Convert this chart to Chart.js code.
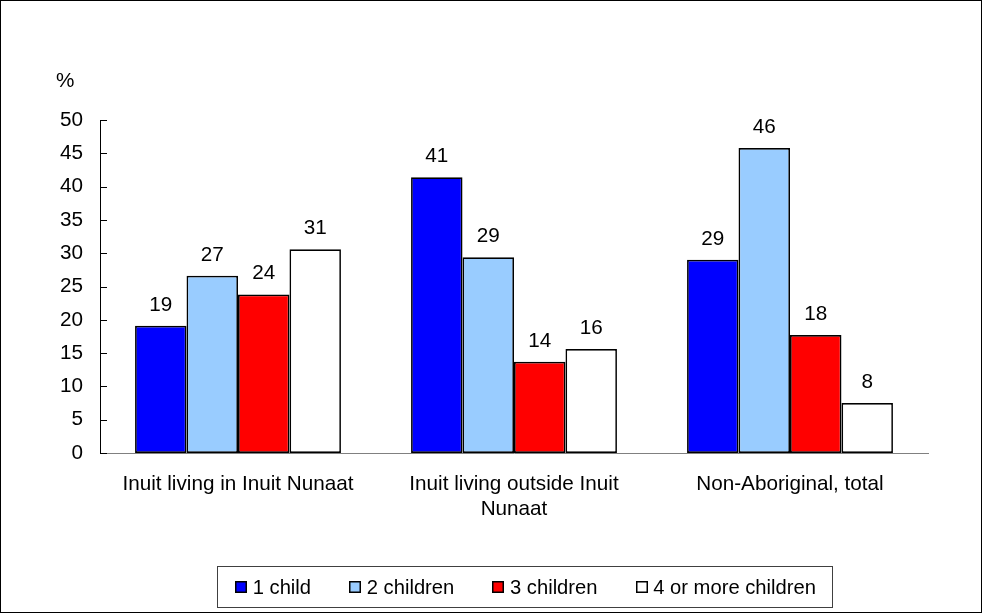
<!DOCTYPE html>
<html>
<head>
<meta charset="utf-8">
<script src="https://cdn.jsdelivr.net/npm/chart.js@4"></script>
<style>
  html, body { margin: 0; padding: 0; background: #fff; }
  #wrap { width: 982px; height: 613px; }
</style>
</head>
<body>
<div id="wrap"><canvas id="myChart" width="982" height="613"></canvas></div>
<script>
const categories = [
  "Inuit living in Inuit Nunaat",
  ["Inuit living outside Inuit", "Nunaat"],
  "Non-Aboriginal, total"
];
const seriesNames = ["1 child", "2 children", "3 children", "4 or more children"];
const oneChild = [19.1, 41.4, 29.0];
const twoChildren = [26.6, 29.4, 45.8];
const threeChildren = [23.8, 13.7, 17.7];
const fourPlus = [30.6, 15.6, 7.5];
const yTicks = [0, 5, 10, 15, 20, 25, 30, 35, 40, 45, 50];

const colors = ["#0000FF", "#99CCFF", "#FF0000", "#FFFFFF"];
const FONT = "'Liberation Sans', Arial, sans-serif";
const FS = 20.7;

Chart.defaults.font.family = FONT;
Chart.defaults.font.size = FS;
Chart.defaults.color = "#000";

// frame, "%" label, inward ticks, value labels, boxed legend
const extras = {
  id: "extras",
  beforeDraw(chart) {
    const c = chart.ctx;
    c.save();
    c.fillStyle = "#fff";
    c.fillRect(0, 0, chart.width, chart.height);
    c.restore();
  },
  afterDraw(chart) {
    const c = chart.ctx;
    const y = chart.scales.y;
    c.save();
    c.strokeStyle = "#000";
    c.lineWidth = 1;
    c.strokeRect(0.5, 0.5, chart.width - 1, chart.height - 1);

    // inward y ticks
    c.beginPath();
    yTicks.forEach(v => {
      const py = Math.round(y.getPixelForValue(v)) + 0.5;
      c.moveTo(y.right, py);
      c.lineTo(y.right + 7, py);
    });
    c.stroke();

    c.font = FS + "px " + FONT;
    c.fillStyle = "#000";
    c.textBaseline = "alphabetic";
    c.textAlign = "left";
    c.fillText("%", 56, 87);

    // values above bars
    c.textAlign = "center";
    chart.data.datasets.forEach((ds, di) => {
      chart.getDatasetMeta(di).data.forEach((bar, i) => {
        c.fillText(Math.round(ds.data[i]), bar.x, bar.y - 15);
      });
    });

    // legend
    c.font = "20.2px " + FONT;
    const ds = chart.data.datasets;
    const box = 12, gapText = 5.7, gapItem = 38;
    let total = 0;
    ds.forEach((d, i) => {
      total += box + gapText + c.measureText(d.label).width + (i < ds.length - 1 ? gapItem : 0);
    });
    const boxL = 217, padL = 18, padR = 16;
    const top = 566, bottom = 607, mid = 587;
    c.strokeStyle = "#404040";
    c.strokeRect(boxL + 0.5, top + 0.5, Math.round(padL + total + padR), bottom - top);
    let x = boxL + padL;
    c.textAlign = "left";
    c.textBaseline = "middle";
    ds.forEach(d => {
      const bx = Math.round(x);
      c.fillStyle = d.backgroundColor;
      c.fillRect(bx, mid - box / 2, box, box);
      c.strokeStyle = "#000";
      c.lineWidth = 1.5;
      c.strokeRect(bx + 0.75, mid - box / 2 + 0.75, box - 1.5, box - 1.5);
      c.fillStyle = "#000";
      c.fillText(d.label, x + box + gapText, mid + 1);
      x += box + gapText + c.measureText(d.label).width + gapItem;
    });
    c.restore();
  }
};

const seriesData = [oneChild, twoChildren, threeChildren, fourPlus];

new Chart(document.getElementById("myChart").getContext("2d"), {
  type: "bar",
  data: {
    labels: categories,
    datasets: seriesNames.map((name, i) => ({
      label: name,
      data: seriesData[i],
      backgroundColor: colors[i],
      borderColor: "#000",
      borderWidth: 1.7,
      borderSkipped: false,
      categoryPercentage: 0.746,
      barPercentage: 1
    }))
  },
  options: {
    responsive: false,
    animation: false,
    layout: { padding: { top: 120, left: 0, right: 54, bottom: 60 } },
    plugins: {
      tooltip: { enabled: false },
      legend: { display: false }
    },
    scales: {
      x: {
        grid: { display: false, drawTicks: false },
        border: { display: true, color: "#808080", width: 1 },
        ticks: { padding: 19, maxRotation: 0, autoSkip: false, font: { size: FS } },
        afterFit(s) { s.height = 100; }
      },
      y: {
        min: 0,
        max: 50,
        afterBuildTicks(s) { s.ticks = yTicks.map(v => ({ value: v })); },
        grid: { display: false, drawTicks: false },
        border: { display: true, color: "#000", width: 1 },
        ticks: { padding: 17, font: { size: FS } },
        afterFit(s) { s.width = 100; }
      }
    }
  },
  plugins: [extras]
});
</script>
</body>
</html>
